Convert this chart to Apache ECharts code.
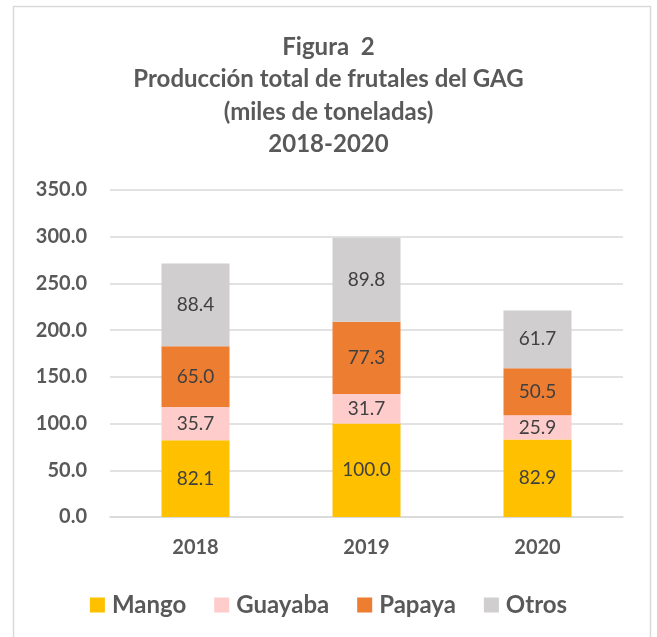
<!DOCTYPE html>
<html>
<head>
<meta charset="utf-8">
<script src="https://cdn.jsdelivr.net/npm/echarts@6/dist/echarts.min.js"></script>
<style>
  html, body { margin: 0; padding: 0; background: #fff; }
  #chart { width: 657px; height: 637px; }
</style>
</head>
<body>
<div id="chart"></div>
<script>
// datos de la figura
const years = ['2018', '2019', '2020']
const mango = [82.1, 100.0, 82.9]
const guayaba = [35.7, 31.7, 25.9]
const papaya = [65.0, 77.3, 50.5]
const otros = [88.4, 89.8, 61.7]
const yTicks = [0, 50, 100, 150, 200, 250, 300, 350]

const font = 'Lato, "Open Sans", sans-serif'
const colors = ['#FFC000', '#FFCCCC', '#ED7D31', '#D0CECE']

const makeSeries = (name, data, color) => ({
    name: name,
    type: 'bar',
    stack: 'total',
    data: data,
    barWidth: 68,
    itemStyle: { color: color },
    label: {
        show: true,
        position: 'inside',
        formatter: (p) => p.value.toFixed(1),
        color: '#404040',
        fontFamily: font,
        fontSize: 19,
    },
})

const chart = echarts.init(document.getElementById('chart'))
chart.setOption({
    animation: false,
    graphic: [{
        type: 'rect',
        shape: { x: 13.5, y: 6.5, width: 637, height: 640 },
        style: { fill: 'none', stroke: '#D9D9D9', lineWidth: 1.5 },
    }],
    title: {
        text: 'Figura  2\nProducción total de frutales del GAG\n(miles de toneladas)\n2018-2020',
        left: 'center',
        top: 26,
        textStyle: {
            fontFamily: font,
            fontWeight: 'bold',
            fontSize: 24,
            lineHeight: 32.5,
            color: '#595959',
        },
    },
    legend: {
        top: 588,
        left: 'center',
        itemWidth: 15,
        itemHeight: 15,
        itemGap: 28,
        icon: 'rect',
        textStyle: {
            fontFamily: font,
            fontWeight: 'bold',
            fontSize: 24,
            color: '#595959',
            padding: [0, 0, 0, 2],
        },
        data: ['Mango', 'Guayaba', 'Papaya', 'Otros'],
    },
    grid: {
        left: 110,
        right: 34,
        top: 190,
        bottom: 120,
        containLabel: false,
    },
    xAxis: {
        type: 'category',
        data: years,
        axisLine: { lineStyle: { color: '#D9D9D9', width: 1.5 } },
        axisTick: { show: false },
        axisLabel: {
            fontFamily: font,
            fontWeight: 'bold',
            fontSize: 20,
            color: '#595959',
            margin: 21,
        },
    },
    yAxis: {
        type: 'value',
        min: yTicks[0],
        max: yTicks[yTicks.length - 1],
        interval: 50,
        axisLine: { show: false },
        axisTick: { show: false },
        splitLine: { lineStyle: { color: '#D9D9D9', width: 1.5 } },
        axisLabel: {
            formatter: (v) => v.toFixed(1),
            fontFamily: font,
            fontWeight: 'bold',
            fontSize: 20,
            color: '#595959',
            margin: 23,
        },
    },
    series: [
        makeSeries('Mango', mango, colors[0]),
        makeSeries('Guayaba', guayaba, colors[1]),
        makeSeries('Papaya', papaya, colors[2]),
        makeSeries('Otros', otros, colors[3]),
    ],
})
</script>
</body>
</html>
